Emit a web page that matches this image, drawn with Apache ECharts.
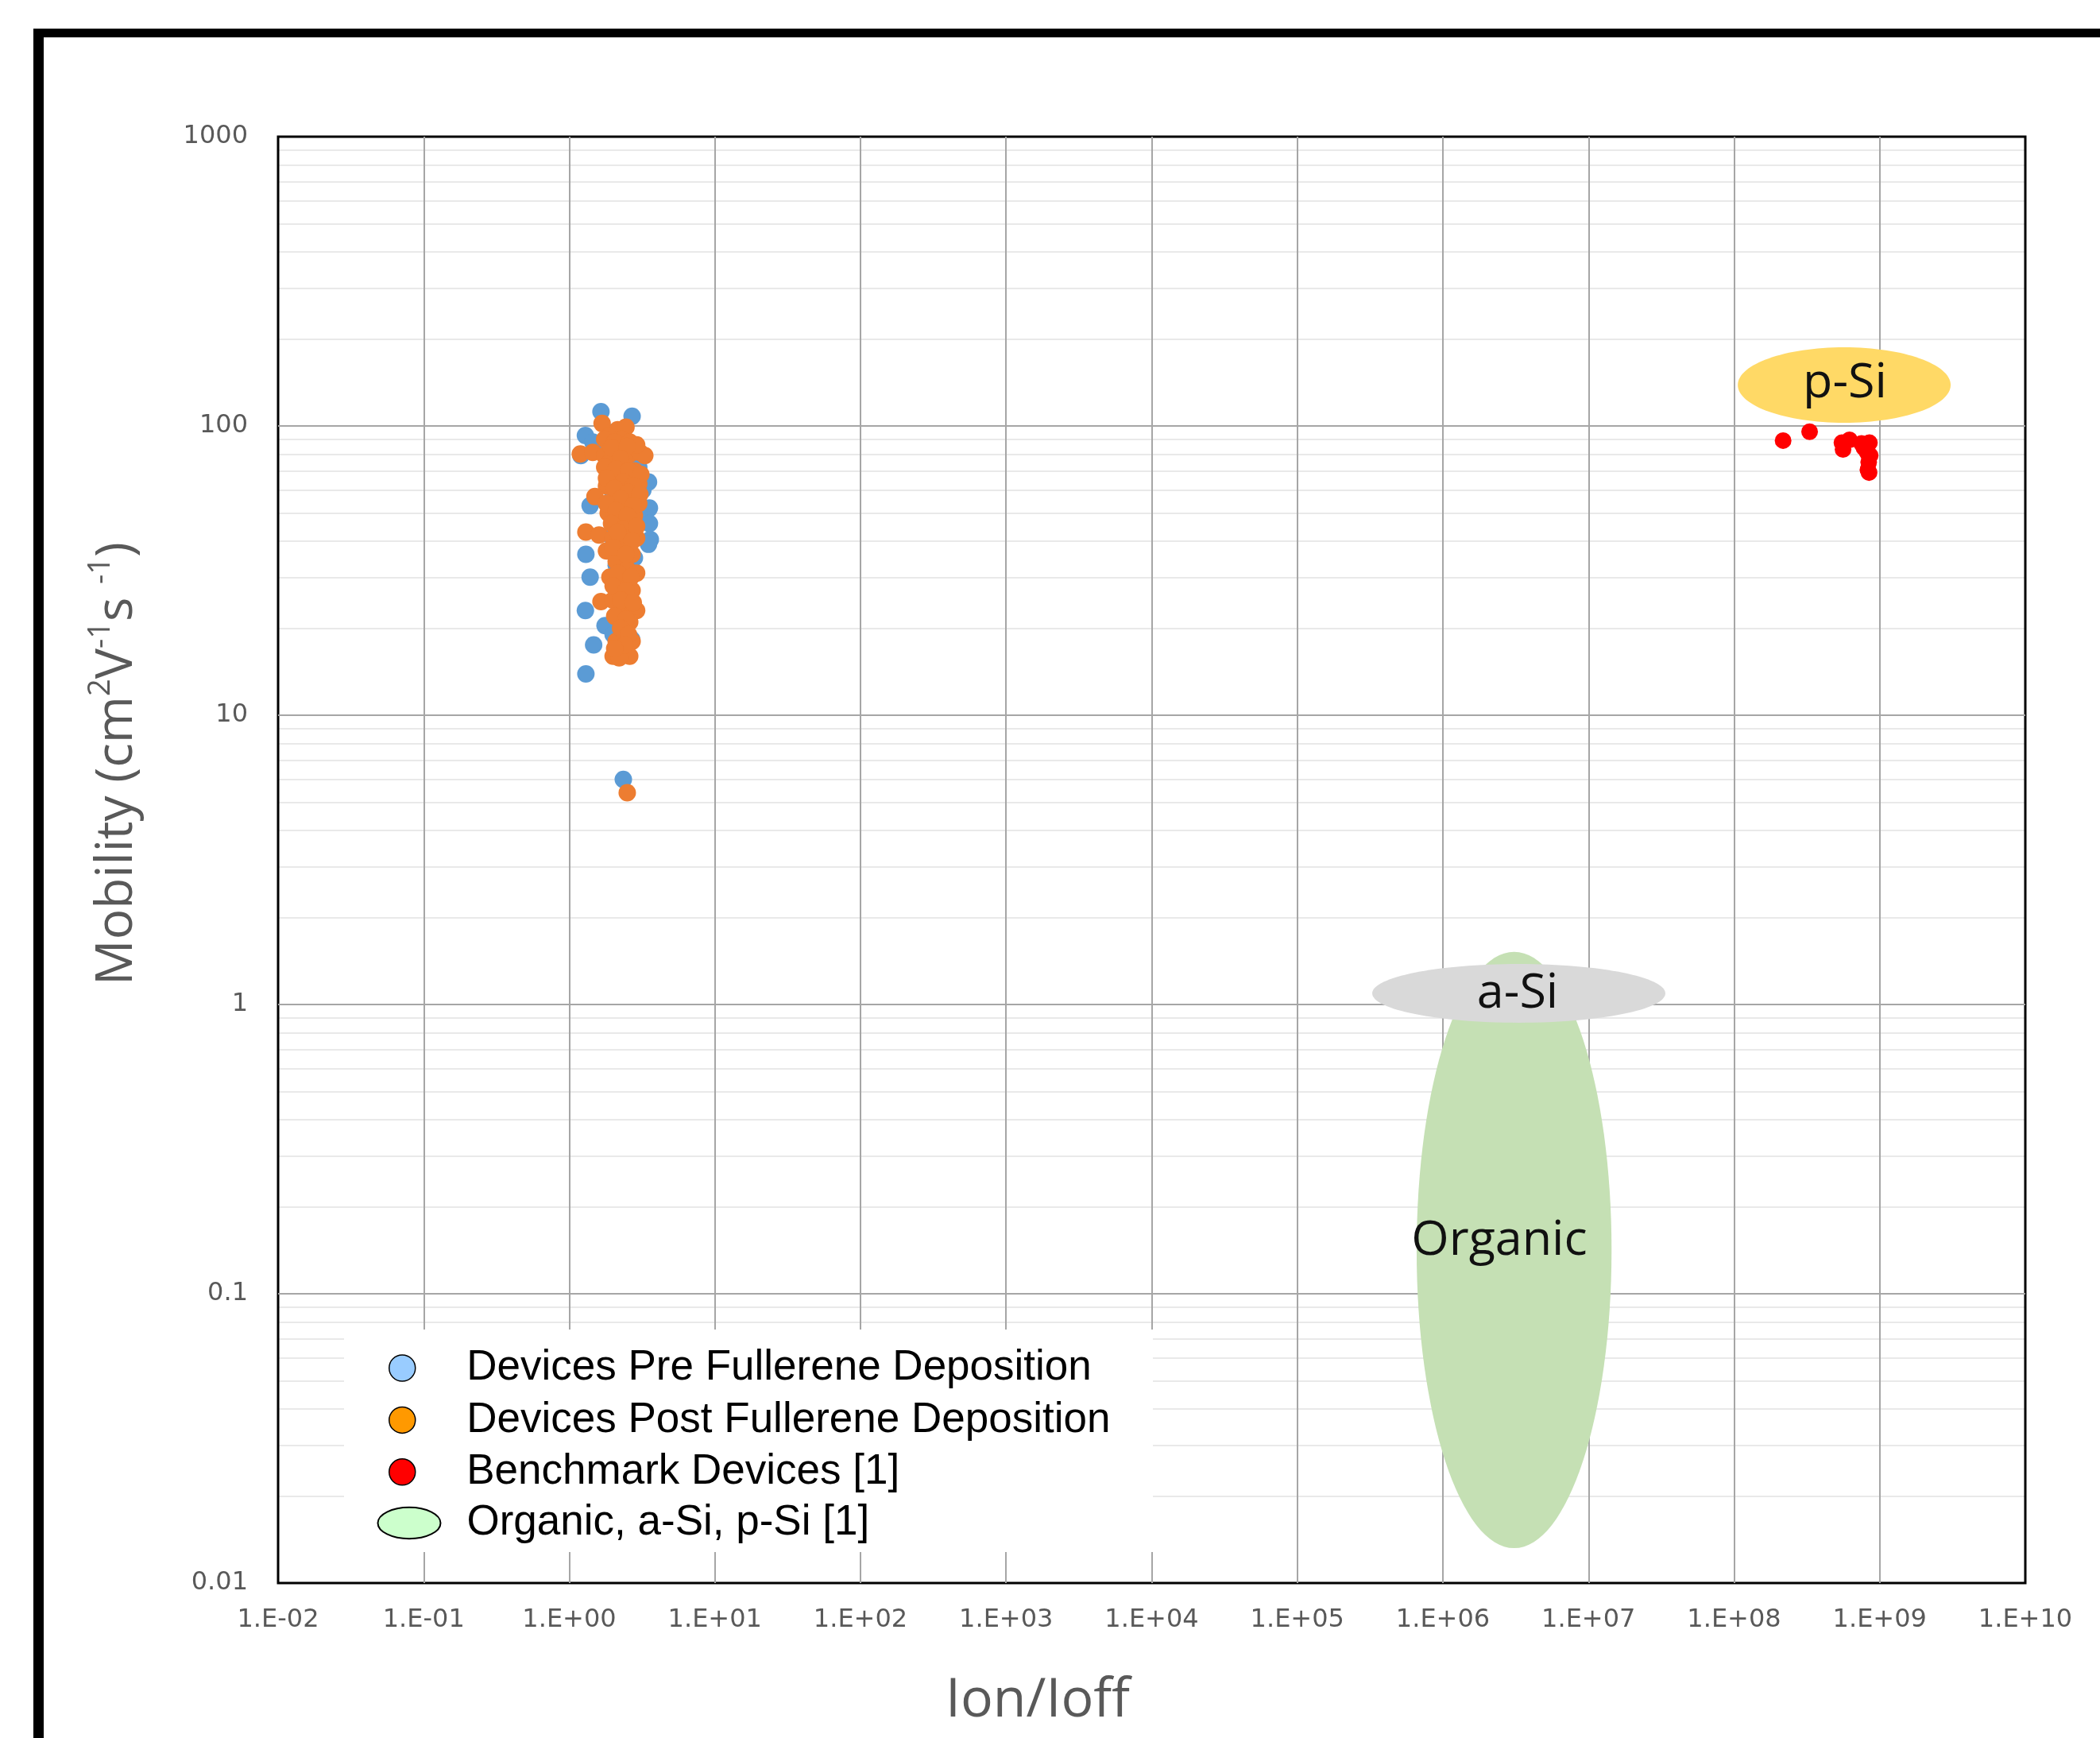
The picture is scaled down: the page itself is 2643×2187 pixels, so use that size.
<!DOCTYPE html>
<html>
<head>
<meta charset="utf-8">
<script src="https://cdn.jsdelivr.net/npm/echarts@6/dist/echarts.min.js"></script>
<style>
html,body{margin:0;padding:0;background:#fff;}
#chart{width:2643px;height:2187px;}
</style>
</head>
<body>
<div id="chart"></div>
<script>
// ---------- data ----------
const xTickLabels = ['1.E-02','1.E-01','1.E+00','1.E+01','1.E+02','1.E+03','1.E+04','1.E+05','1.E+06','1.E+07','1.E+08','1.E+09','1.E+10'];
const yTickLabels = ['0.01','0.1','1','10','100','1000'];
const minorGridValues = [0.02,0.03,0.04,0.05,0.06,0.07,0.08,0.09,
  0.2,0.3,0.4,0.5,0.6,0.7,0.8,0.9,
  2,3,4,5,6,7,8,9,
  20,30,40,50,60,70,80,90,
  200,300,400,500,600,700,800,900];

const seriesNames = ['Devices Pre Fullerene Deposition','Devices Post Fullerene Deposition','Benchmark Devices [1]','Organic, a-Si, p-Si [1]'];

// [Ion/Ioff, mobility]
const preData = [
  [1.65,112],[2.7,108],[1.29,92.7],[1.45,88],[2.0,95],[1.8,85],[2.3,86],
  [1.2,79],[2.6,76],[3.0,72],[1.9,70],[2.2,65],[3.5,64],[3.2,60],[2.0,58],[2.5,55],
  [1.39,53],[3.55,52],[3.0,50],[2.2,48],[3.55,46],[2.6,44],[1.9,42],[3.6,40.5],[3.5,39],[2.4,40],
  [1.3,36],[2.8,35],[2.1,33],[1.39,30],[2.5,30],[2.2,27],[2.6,25],[1.29,23],[2.75,22.8],[2.3,21],
  [1.76,20.4],[2.0,19],[2.68,18.3],[1.47,17.5],[1.3,13.9],[2.35,6.0]
];
const postData = [
  [1.68,102],[2.15,97],[2.45,99],[1.85,92],[2.3,90],[1.19,80],[1.45,81],[1.75,79],[2.1,82],
  [2.6,80],[3.05,81],[3.3,79],[1.9,75],[2.4,73],[2.8,70],[2.0,68],[2.6,66],[3.0,63],[1.8,62],
  [2.3,60],[1.5,57],[2.7,57],[2.0,55],[3.0,54],[2.4,52],[1.85,50],[2.8,49],[2.2,47],[2.6,45],
  [1.3,43],[1.6,42],[2.0,41],[2.9,41],[2.4,39],[1.8,37],[2.7,36],[2.1,34],[2.5,32],[2.9,31],
  [1.9,30],[2.3,28],[2.7,27],[1.65,24.7],[2.0,25],[2.5,24],[2.9,23],[2.2,22],[2.6,21],[2.4,19],
  [2.1,18],[2.7,18],[2.3,16.5],[2.0,16],[2.6,16],[2.2,15.8],[2.5,5.4],
  [1.75,90],[2.05,88],[2.6,88],[2.9,86],[1.95,84],[2.5,85],[2.25,77],[1.75,72],[2.1,71],[2.55,70],
  [3.1,68],[1.8,66],[2.35,64],[2.75,62],[2.05,61],[2.55,59],[3.05,58],[2.25,56],[1.8,54],[2.75,53],
  [2.1,51],[2.5,49],[1.95,46],[2.35,44],[2.9,45],[2.15,43],[2.7,40],[2.0,38],[2.45,36],[2.15,31],
  [2.65,30],[2.0,28],[2.45,27],[2.25,25],[2.75,24.5],[2.05,22],[2.45,21.5],[2.25,20],[2.55,19],
  [2.4,17.5],[2.05,17]
];
const benchmarkData = [
  [2.17e8,89],[3.3e8,95.5],[5.5e8,87.5],[6.2e8,89.5],[5.6e8,83],[7.5e8,87],[8.5e8,87.5],
  [7.8e8,84],[8.6e8,79],[8.2e8,81],[8.4e8,75],[8.3e8,70.5],[8.45e8,69]
];

// technology regions (ellipses): extents in Ion/Ioff and mobility, plus label anchors
const regionNames = ['Organic','a-Si','p-Si'];
const regionXMin = [6.6e5, 3.27e5, 1.06e8];
const regionXMax = [1.44e7, 3.37e7, 3.07e9];
const regionYMin = [0.0132, 0.865, 102.6];
const regionYMax = [1.52, 1.38, 187];
const regionLabelX = [2.44e6, 3.26e6, 5.77e8];
const regionLabelY = [0.152, 1.086, 140];

// ---------- styles ----------
const regionColors = ['#C5E0B4','#D9D9D9','#FFD966'];
const regionData = regionNames.map((n,i)=>[regionXMin[i],regionXMax[i],regionYMin[i],regionYMax[i],regionLabelX[i],regionLabelY[i]]);

const chart = echarts.init(document.getElementById('chart'), null, {renderer:'canvas'});

const gridLineColor = '#A6A6A6';
const option = {
  animation: false,
  backgroundColor: '#fff',
  grid: {left:350, right:94, top:172, bottom:195, show:true, borderColor:'#000', borderWidth:3, backgroundColor:'transparent'},
  xAxis: {
    type:'log', logBase:10, min:0.01, max:1e10, interval:1, splitNumber:12,
    axisLine:{show:false}, axisTick:{show:false},
    splitLine:{show:true, showMinLine:false, showMaxLine:false, lineStyle:{color:gridLineColor, width:2}},
    axisLabel:{
      margin:31, color:'#595959', fontFamily:'DejaVu Sans', fontSize:32,
      formatter:function(v){ const i = Math.round(Math.log10(v))+2; return xTickLabels[i] || ''; }
    }
  },
  yAxis: {
    type:'log', logBase:10, min:0.01, max:1000, interval:1, splitNumber:5,
    axisLine:{show:false}, axisTick:{show:false},
    splitLine:{show:true, showMinLine:false, showMaxLine:false, lineStyle:{color:gridLineColor, width:2}},
    axisLabel:{
      margin:38, color:'#595959', fontFamily:'DejaVu Sans', fontSize:32,
      formatter:function(v){ const i = Math.round(Math.log10(v))+2; return yTickLabels[i] || ''; }
    }
  },
  legend: [
    {
      orient:'vertical', left:489, top:1695, padding:0, itemGap:12.4,
      itemWidth:152, itemHeight:33, selectedMode:false,
      textStyle:{fontFamily:'Liberation Sans', fontSize:53, color:'#000', lineHeight:45},
      data:[
        {name:seriesNames[0], icon:'circle', itemStyle:{color:'#99CCFF', borderColor:'#000', borderWidth:1.5}},
        {name:seriesNames[1], icon:'circle', itemStyle:{color:'#FF9900', borderColor:'#000', borderWidth:1.5}},
        {name:seriesNames[2], icon:'circle', itemStyle:{color:'#FF0000', borderColor:'#000', borderWidth:1.5}}
      ]
    },
    {
      orient:'vertical', left:474.5, top:1890, padding:0,
      itemWidth:79, itemHeight:45, selectedMode:false,
      textStyle:{fontFamily:'Liberation Sans', fontSize:53, color:'#000', lineHeight:45, padding:[0,0,0,28]},
      data:[
        {name:seriesNames[3], icon:'path://M0,50 A100,50 0 1,0 200,50 A100,50 0 1,0 0,50 Z',
         itemStyle:{color:'#CCFFCC', borderColor:'#000', borderWidth:2}}
      ]
    }
  ],
  graphic: [
    {type:'rect', shape:{x:42, y:36, width:2601, height:11}, style:{fill:'#000'}, z:10},
    {type:'rect', shape:{x:42, y:36, width:13, height:2151}, style:{fill:'#000'}, z:10},
    {type:'rect', shape:{x:433, y:1673, width:1018, height:280}, style:{fill:'#fff'}, z:3},
    {type:'text', x:1306, y:2141, z:10,
     style:{text:'Ion/Ioff', fill:'#595959', fontFamily:'Open Sans', fontSize:68, align:'center', verticalAlign:'middle'}},
    {type:'text', x:148, y:961, rotation:Math.PI/2, z:10,
     style:{
       text:'{a|Mobility (cm}{s|2}{a|V}{s|-1}{a|s }{s|-1}{a|)}',
       align:'center', verticalAlign:'middle', fill:'#595959',
       rich:{
         a:{fontFamily:'Open Sans', fontSize:64, fill:'#595959', color:'#595959', lineHeight:80},
         s:{fontFamily:'Open Sans', fontSize:38, fill:'#595959', color:'#595959', lineHeight:56, verticalAlign:'top'}
       }
     }}
  ],
  series: [
    {
      name:'minorGrid', type:'line', data:[], silent:true,
      markLine:{
        silent:true, z:-1, symbol:['none','none'], label:{show:false},
        lineStyle:{color:'#E9E9E9', width:2, type:'solid'},
        emphasis:{disabled:true},
        data: minorGridValues.map(v=>({yAxis:v}))
      }
    },
    {
      name:seriesNames[3], type:'custom', z:2,
      encode:{x:[0,1,4], y:[2,3,5]},
      data: regionData,
      renderItem:function(params, api){
        const i = params.dataIndex;
        const p1 = api.coord([api.value(0), api.value(2)]);
        const p2 = api.coord([api.value(1), api.value(3)]);
        const lp = api.coord([api.value(4), api.value(5)]);
        return {
          type:'group',
          children:[
            {type:'ellipse', shape:{cx:(p1[0]+p2[0])/2, cy:(p1[1]+p2[1])/2, rx:Math.abs(p2[0]-p1[0])/2, ry:Math.abs(p1[1]-p2[1])/2},
             style:{fill:regionColors[i]}},
            {type:'text', x:lp[0], y:lp[1],
             style:{text:regionNames[i], fill:'#111', fontFamily:'Open Sans', fontSize:61, align:'center', verticalAlign:'middle'}}
          ]
        };
      }
    },
    {name:seriesNames[0], type:'scatter', data:preData, symbolSize:22, itemStyle:{color:'#5B9BD5', opacity:1}, z:3},
    {name:seriesNames[1], type:'scatter', data:postData, symbolSize:22, itemStyle:{color:'#ED7D31', opacity:1}, z:4},
    {name:seriesNames[2], type:'scatter', data:benchmarkData, symbolSize:21, itemStyle:{color:'#FF0000', opacity:1}, z:5}
  ]
};
chart.setOption(option);
</script>
</body>
</html>
